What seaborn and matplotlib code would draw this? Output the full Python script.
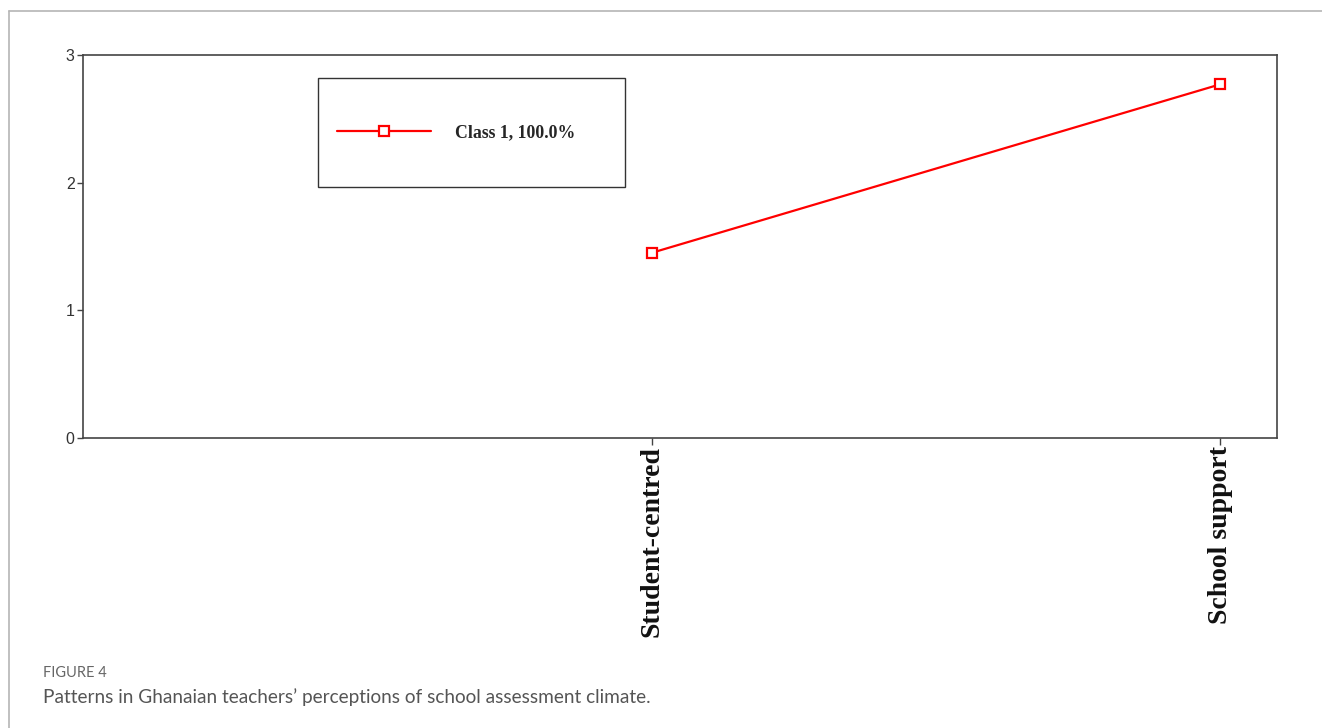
import matplotlib
matplotlib.use("Agg")
import matplotlib.pyplot as plt
from matplotlib.lines import Line2D
from matplotlib.patches import Rectangle
import seaborn as sns
import pandas as pd

# ---- data ----
categories = ["Student-centred", "School support"]
class1_values = [1.45, 2.77]
series_label = "Class 1, 100.0%"
y_ticks = [0, 1, 2, 3]

sns.set_theme(style="white")
plt.rcParams['font.family'] = ['Liberation Sans', 'DejaVu Sans']

df = pd.DataFrame({"category": categories, "value": class1_values})

fig = plt.figure(figsize=(13.22, 7.28), dpi=100)
ax = fig.add_axes([0.0628, 0.3984, 0.9032, 0.5261])

sns.lineplot(data=df, x="category", y="value", ax=ax, color="#ff0000",
             linewidth=1.6, marker="s", markersize=7.5, markerfacecolor="white",
             markeredgecolor="#ff0000", markeredgewidth=1.6, legend=False)

ax.set_xlim(-1, 1.1)
ax.set_ylim(0, 3)
ax.set_yticks(y_ticks)
ax.set_xlabel("")
ax.set_ylabel("")

for s in ax.spines.values():
    s.set_color("#444444")
    s.set_linewidth(1.2)
    s.set_visible(True)

ax.tick_params(axis="y", which="major", direction="out", length=4, width=1,
               color="#444444", labelsize=11.5, labelcolor="#333333", pad=2, left=True)
ax.tick_params(axis="x", which="major", direction="out", length=5, width=1,
               color="#444444", pad=1, bottom=True)
ax.set_xticks(range(len(categories)))
ax.set_xticklabels(categories, rotation=90, fontsize=20, fontweight="bold",
                   family=["Liberation Serif", "DejaVu Serif"], color="#111111",
                   va="top", ha="center")

# legend box
ax.add_patch(Rectangle((0.197, 0.655), 0.257, 0.285, transform=ax.transAxes,
                       fill=False, edgecolor="#333333", linewidth=1.0))
handle = Line2D([], [], color="#ff0000", linewidth=1.6, marker="s", markersize=7.5,
                markerfacecolor="white", markeredgecolor="#ff0000", markeredgewidth=1.6)
ax.legend([handle], [series_label], loc="center left",
          bbox_to_anchor=(0.2125, 0.7975), frameon=False, borderpad=0,
          borderaxespad=0, handlelength=5.3, handletextpad=1.35,
          prop={"family": "Liberation Serif", "weight": "bold", "size": 12.8})

# outer frame
fig.add_artist(Line2D([0.0068, 1.0], [0.9849, 0.9849], transform=fig.transFigure,
                      color="#b5b5b5", linewidth=1.2))
fig.add_artist(Line2D([0.0068, 0.0068], [0.0, 0.9849], transform=fig.transFigure,
                      color="#b5b5b5", linewidth=1.2))

# caption
fig.text(0.0325, 1 - 673 / 728, "FIGURE 4", family=["Lato", "DejaVu Sans"],
         fontsize=10.5, color="#666666", va="center", ha="left")
fig.text(0.0325, 1 - 697 / 728,
         "Patterns in Ghanaian teachers\u2019 perceptions of school assessment climate.",
         family=["Lato", "DejaVu Sans"], fontsize=13.7, color="#555555",
         va="center", ha="left")

fig.savefig("out.png", dpi=100)
